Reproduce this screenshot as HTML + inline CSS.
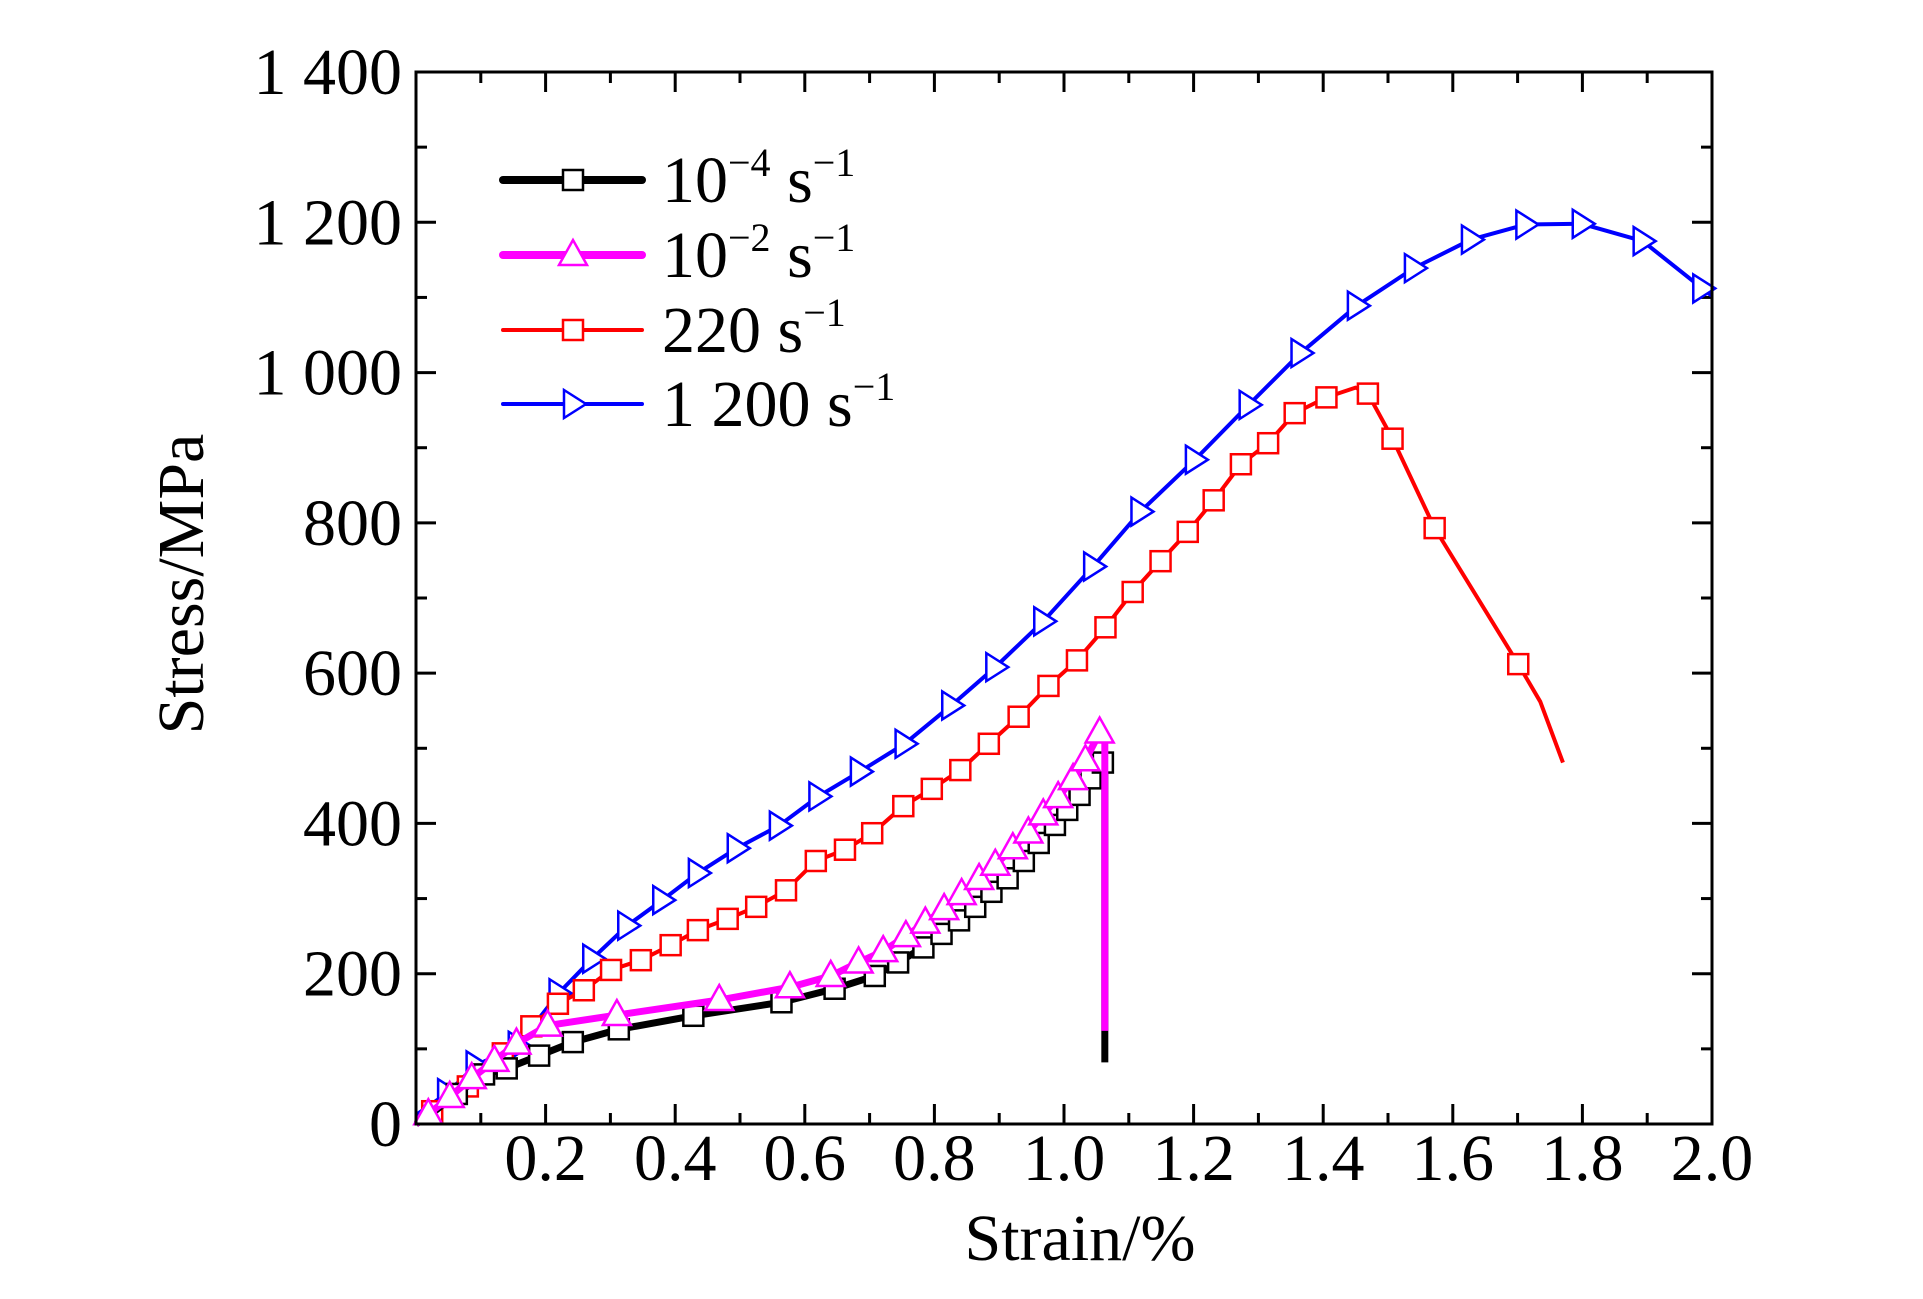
<!DOCTYPE html>
<html><head><meta charset="utf-8"><style>
html,body{margin:0;padding:0;background:#fff;}
svg{display:block;}
text{font-family:"Liberation Serif",serif;fill:#000;}
</style></head><body>
<svg id="chart" width="1923" height="1299" viewBox="0 0 1923 1299">
<g id="plot"></g>
</svg>
<script>
const xTicks=[0.2,0.4,0.6,0.8,1.0,1.2,1.4,1.6,1.8,2.0];
const xTickLabels=["0.2","0.4","0.6","0.8","1.0","1.2","1.4","1.6","1.8","2.0"];
const yTicks=[0,200,400,600,800,1000,1200,1400];
const yTickLabels=["0","200","400","600","800","1 000","1 200","1 400"];
const seriesNames=["10^-4","10^-2","220","1 200"];
const blackX=[0,0.03,0.063,0.105,0.14,0.19,0.242,0.313,0.428,0.564,0.646,0.708,0.744,0.783,0.811,0.838,0.863,0.888,0.913,0.938,0.961,0.986,1.005,1.024,1.041,1.06,1.063,1.063];
const blackY=[0,18,40,66,74,91,109,126,144,162,180,197,215,235,253,271,289,309,327,350,374,398,418,438,460,481,490,82];
const magX=[0,0.019,0.052,0.086,0.121,0.155,0.203,0.31,0.468,0.577,0.64,0.683,0.721,0.756,0.786,0.815,0.842,0.869,0.894,0.921,0.945,0.968,0.991,1.014,1.033,1.055,1.058,1.063,1.063];
const magY=[0,13,36,61,84,107,131,145,165,182,197,215,230,250,268,286,306,326,345,367,388,412,435,459,484,521,529,520,124];
const redX=[0,0.025,0.08,0.134,0.178,0.219,0.259,0.301,0.347,0.393,0.435,0.481,0.525,0.571,0.617,0.662,0.704,0.752,0.796,0.84,0.884,0.93,0.976,1.02,1.064,1.106,1.149,1.191,1.231,1.273,1.315,1.356,1.405,1.45,1.469,1.507,1.572,1.701,1.735,1.77];
const redY=[0,17,50,94,130,160,178,205,218,238,258,273,289,311,350,365,387,423,446,471,506,542,583,617,661,708,749,788,830,878,906,946,967,980,972,912,793,612,562,481];
const blueX=[0,0.048,0.092,0.157,0.22,0.272,0.326,0.38,0.435,0.495,0.56,0.621,0.685,0.754,0.826,0.894,0.968,1.045,1.118,1.202,1.285,1.365,1.452,1.54,1.628,1.712,1.799,1.893,1.985,2.0];
const blueY=[12,41,78,104,174,220,264,298,334,367,397,436,469,506,557,608,669,742,815,884,957,1026,1089,1139,1177,1197,1198,1175,1112,1102];
const blackMk=[2,3,4,5,6,7,8,9,10,11,12,13,14,15,16,17,18,19,20,21,22,23,24,25];
const magMk=[1,2,3,4,5,6,7,8,9,10,11,12,13,14,15,16,17,18,19,20,21,22,23,24,25];
const redMk=[1,2,3,4,5,6,7,8,9,10,11,12,13,14,15,16,17,18,19,20,21,22,23,24,25,26,27,28,29,30,31,32,34,35,36,37];
const blueMk=[1,2,3,4,5,6,7,8,9,10,11,12,13,14,15,16,17,18,19,20,21,22,23,24,25,26,27,28];

const L=416,R=1712,T=72,B=1124;
const sx=v=>L+(v/2.0)*(R-L);
const sy=v=>B-(v/1400)*(B-T);
const NS="http://www.w3.org/2000/svg";
const plot=document.getElementById('plot');
function mk(tag,attrs,parent){const e=document.createElementNS(NS,tag);for(const k in attrs)e.setAttribute(k,attrs[k]);(parent||plot).appendChild(e);return e;}

// ticks
for(let i=1;i<=20;i++){const v=i*0.1;const len=(i%2===0)?20:11;const x=sx(v);
 let t=mk('line',{x1:x,x2:x,y1:B,y2:B-len,stroke:'#000','stroke-width':3});
 
 t=mk('line',{x1:x,x2:x,y1:T,y2:T+len,stroke:'#000','stroke-width':3});
 }
for(let i=1;i<=14;i++){const v=i*100;const len=(i%2===0)?20:11;const y=sy(v);
 let t=mk('line',{x1:L,x2:L+len,y1:y,y2:y,stroke:'#000','stroke-width':3});
 
 t=mk('line',{x1:R,x2:R-len,y1:y,y2:y,stroke:'#000','stroke-width':3});
 }
xTicks.forEach((v,i)=>{const t=mk('text',{x:sx(v),y:1180,'text-anchor':'middle','font-size':66});t.textContent=xTickLabels[i];
 });
yTicks.forEach((v,i)=>{const t=mk('text',{x:402,y:sy(v)+22,'text-anchor':'end','font-size':66});t.textContent=yTickLabels[i];
 });

function drawSeries(xs,ys,mks,color,w,shape,name){
 const g=mk('g',{});
 
 
 const pts=xs.map((x,i)=>sx(x)+','+sy(ys[i])).join(' ');
 const p=mk('polyline',{points:pts,fill:'none',stroke:color,'stroke-width':w,'stroke-linejoin':'round'},g);
 
 
 mks.forEach(i=>{const m=marker(sx(xs[i]),sy(ys[i]),shape,color,g);
  
  });
}
function marker(x,y,shape,color,g){
 if(shape==='sq')return mk('rect',{x:x-10,y:y-10,width:20,height:20,fill:'#fff',stroke:color,'stroke-width':2.5},g);
 if(shape==='tri')return mk('polygon',{points:`${x},${y-15} ${x-14},${y+10} ${x+14},${y+10}`,fill:'#fff',stroke:color,'stroke-width':2.5},g);
 return mk('polygon',{points:`${x-9},${y-14} ${x+13},${y} ${x-9},${y+14}`,fill:'#fff',stroke:color,'stroke-width':2.5},g);
}
drawSeries(blueX,blueY,blueMk,'#0000ff',4,'rtri','series-1200');
drawSeries(redX,redY,redMk,'#ff0000',4,'sq','series-220');
drawSeries(blackX,blackY,blackMk,'#000','7','sq','series-1e-4');
drawSeries(magX,magY,magMk,'#ff00ff',7,'tri','series-1e-2');

// frame
const fr=mk('rect',{x:L,y:T,width:R-L,height:B-T,fill:'none',stroke:'#000','stroke-width':3});


// axis titles
let at=mk('text',{x:1080,y:1260,'text-anchor':'middle','font-size':66});at.textContent='Strain/%';

at=mk('text',{x:0,y:0,'text-anchor':'middle','font-size':66,transform:'translate(203,584) rotate(-90)'});at.textContent='Stress/MPa';


// legend
const legRows=[{c:'#000',w:8,s:'sq',base:'10',sup1:'−4',y:180},{c:'#ff00ff',w:8,s:'tri',base:'10',sup1:'−2',y:255},{c:'#ff0000',w:4,s:'sq',base:'220',sup1:'',y:330},{c:'#0000ff',w:4,s:'rtri',base:'1 200',sup1:'',y:404}];
legRows.forEach((r,i)=>{
 const g=mk('g',{});
 
 
 mk('line',{x1:503,x2:642,y1:r.y,y2:r.y,stroke:r.c,'stroke-width':r.w,'stroke-linecap':'round'},g);
 marker(573,r.y,r.s,r.c,g);
 const t=mk('text',{x:662,y:r.y+22,'font-size':66},g);
 let h=r.base;
 if(r.sup1)h+=`<tspan dy="-26" font-size="40">${r.sup1}</tspan><tspan dy="26"> s</tspan>`;else h+=' s';
 h+=`<tspan dy="-26" font-size="40">−1</tspan>`;
 t.innerHTML=h;
});
</script>
</body></html>
